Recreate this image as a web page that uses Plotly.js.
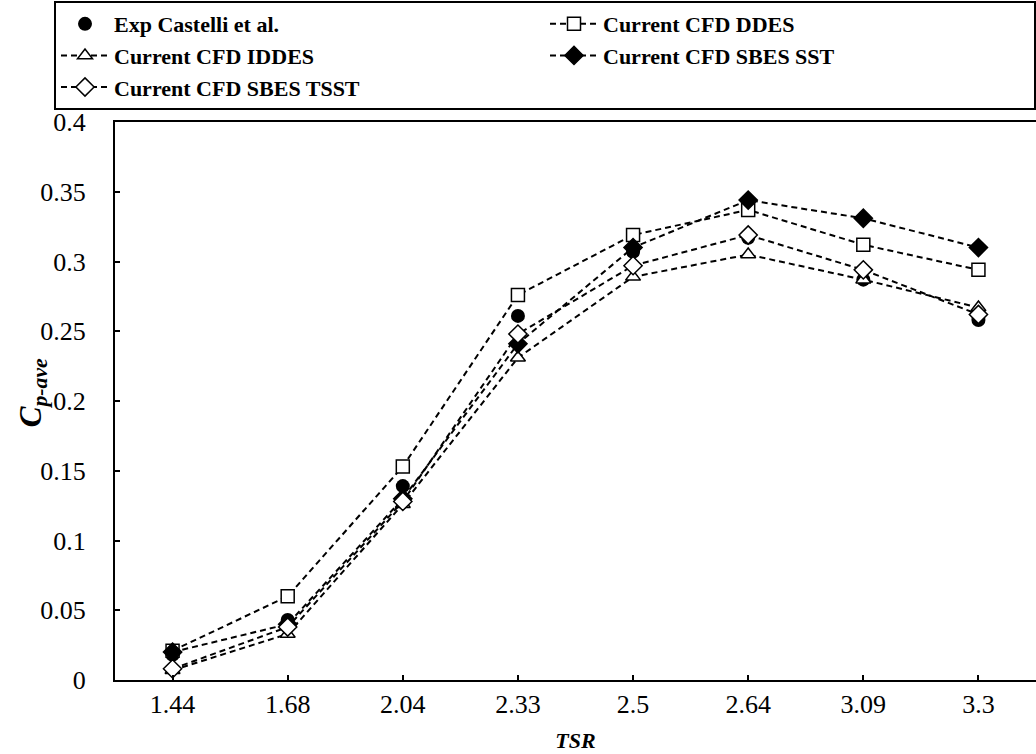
<!DOCTYPE html>
<html>
<head>
<meta charset="utf-8">
<script src="https://cdn.plot.ly/plotly-3.0.1.min.js"></script>
<style>html,body{margin:0;padding:0;background:#fff;}#chart{width:1036px;height:754px;}</style>
</head>
<body>
<div id="chart"></div>
<script>
const tsr = ["1.44", "1.68", "2.04", "2.33", "2.5", "2.64", "3.09", "3.3"];
const expCastelli = [0.018, 0.043, 0.139, 0.261, 0.307, 0.317, 0.287, 0.258];
const cfdDDES = [0.021, 0.060, 0.153, 0.276, 0.319, 0.337, 0.312, 0.294];
const cfdIDDES = [0.007, 0.033, 0.126, 0.231, 0.289, 0.305, 0.287, 0.267];
const cfdSBESSST = [0.020, 0.040, 0.130, 0.241, 0.310, 0.344, 0.331, 0.310];
const cfdSBESTSST = [0.008, 0.038, 0.128, 0.248, 0.297, 0.319, 0.294, 0.262];
const yTitle = "<b><i>C<sub>p-ave</sub></i></b>";
const xTitle = "<b><i>TSR</i></b>";

const FONT = "Liberation Serif, Times New Roman, serif";
const dashLine = {color: "black", width: 2, dash: "6px,4px"};

function cfd(name, y, symbol, fill, size) {
  return {
    x: tsr, y: y, name: name, type: "scatter", mode: "lines+markers",
    line: dashLine,
    marker: {symbol: symbol, size: size, color: fill, line: {color: "black", width: 1.5}}
  };
}

const traces = [
  {x: tsr, y: expCastelli, name: "<b>Exp Castelli et al.</b>", type: "scatter", mode: "markers",
   marker: {symbol: "circle", size: 14, color: "black"}},
  cfd("<b>Current CFD DDES</b>", cfdDDES, "square", "white", 13),
  cfd("<b>Current CFD IDDES</b>", cfdIDDES, "triangle-up", "white", 13),
  cfd("<b>Current CFD SBES SST</b>", cfdSBESSST, "diamond", "black", 14),
  cfd("<b>Current CFD SBES TSST</b>", cfdSBESTSST, "diamond", "white", 14)
];

const layout = {
  width: 1036, height: 754,
  margin: {l: 115, r: 0, t: 122, b: 74},
  paper_bgcolor: "white", plot_bgcolor: "white",
  font: {family: FONT, size: 22, color: "black"},
  showlegend: true,
  legend: {
    orientation: "h", x: -0.063, xanchor: "left", y: 1.2168, yanchor: "top",
    bordercolor: "black", borderwidth: 2, bgcolor: "white",
    entrywidth: 426, entrywidthmode: "pixels", itemwidth: 48,
    font: {family: FONT, size: 22, color: "black"}, tracegroupgap: 0
  },
  xaxis: {
    type: "category", range: [-0.5, 7.5],
    showline: true, linecolor: "black", linewidth: 2, mirror: true,
    ticks: "inside", ticklen: 5, tickwidth: 2, tickcolor: "black",
    showgrid: false, zeroline: false,
    tickfont: {family: FONT, size: 26},
    title: {text: xTitle, font: {family: FONT, size: 22}, standoff: 14}
  },
  yaxis: {
    range: [0, 0.4], dtick: 0.05,
    showline: true, linecolor: "black", linewidth: 2,
    ticks: "inside", ticklen: 5, tickwidth: 2, tickcolor: "black",
    ticklabelstandoff: 22,
    showgrid: false, zeroline: false,
    tickfont: {family: FONT, size: 26}
  },
  annotations: [{
    text: yTitle, xref: "paper", yref: "paper", x: -0.089, y: 0.514,
    xanchor: "center", yanchor: "middle", textangle: -90, showarrow: false,
    font: {family: FONT, size: 31, color: "black"}
  }]
};

Plotly.newPlot("chart", traces, layout, {displayModeBar: false, staticPlot: true});
</script>
</body>
</html>
